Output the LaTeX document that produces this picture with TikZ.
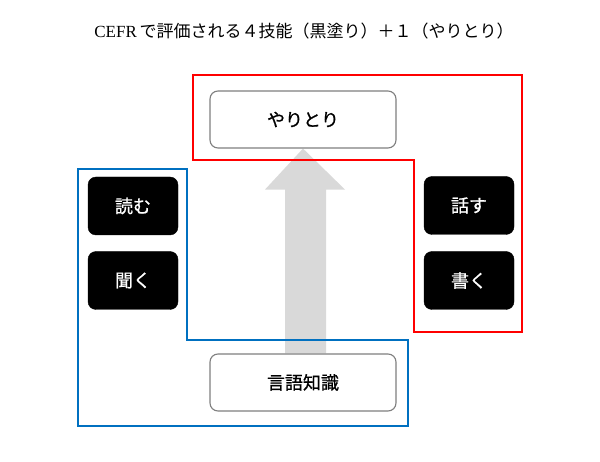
\documentclass[tikz,border=0pt]{standalone}
\usepackage{fontspec}
\setmainfont{Liberation Serif}
\newfontfamily\jpfont{Noto Sans CJK JP}
\newfontfamily\jpboxfont{Noto Sans CJK JP}[FakeBold=0.8]
\usepackage{tikz}
\usetikzlibrary{arrows.meta, positioning, calc, backgrounds}
\usepackage{xcolor}
\definecolor{framered}{HTML}{FF0000}
\definecolor{frameblue}{HTML}{0070C0}
\definecolor{arrowgray}{HTML}{D9D9D9}
\definecolor{boxgray}{HTML}{7F7F7F}

\begin{document}
\begin{tikzpicture}[x=1pt, y=-1pt,
    skillbox/.style={draw=black, fill=black, rounded corners=8pt, minimum width=90pt, minimum height=58pt,
        text=white, font=\jpboxfont\fontsize{18}{21}\selectfont},
    whitebox/.style={draw=boxgray, line width=1.1pt, fill=white, rounded corners=8pt, minimum width=186pt, minimum height=57pt,
        font=\jpboxfont\fontsize{18}{21}\selectfont},
    frame/.style={line width=2pt}]
            \useasboundingbox (0,0) rectangle (600,462);
            \node (title) at (304,31) {\fontsize{17}{20}\selectfont CEFR\,{\jpfont で評価される４技能（黒塗り）＋１（やりとり）}};
            % boxes
            \node[whitebox] (yaritori) at (303,119.5) {やりとり};
            \node[whitebox] (gengo) at (303,382.5) {言語知識};
            \node[skillbox] (yomu) at (133,206) {読む};
            \node[skillbox] (kiku) at (133,280.5) {聞く};
            \node[skillbox] (hanasu) at (469,205.5) {話す};
            \node[skillbox] (kaku) at (469,280.5) {書く};
            % frames and arrow behind the boxes
            \begin{scope}[on background layer]
                \fill[arrowgray] ($(gengo.north)+(-18,0)$) -- ($(yaritori.south)+(-18,41)$) -- ($(yaritori.south)+(-38,41)$)
                    -- (yaritori.south) -- ($(yaritori.south)+(42,41)$) -- ($(yaritori.south)+(23,41)$) -- ($(gengo.north)+(23,0)$) -- cycle;
                \draw[frame, framered] (193,75) -- (522,75) -- (522,332) -- (414,332) -- (414,160) -- (193,160) -- cycle;
                \draw[frame, frameblue] (78,169) -- (187,169) -- (187,340) -- (408,340) -- (408,426) -- (78,426) -- cycle;
            \end{scope}
        \end{tikzpicture}
\end{document}
